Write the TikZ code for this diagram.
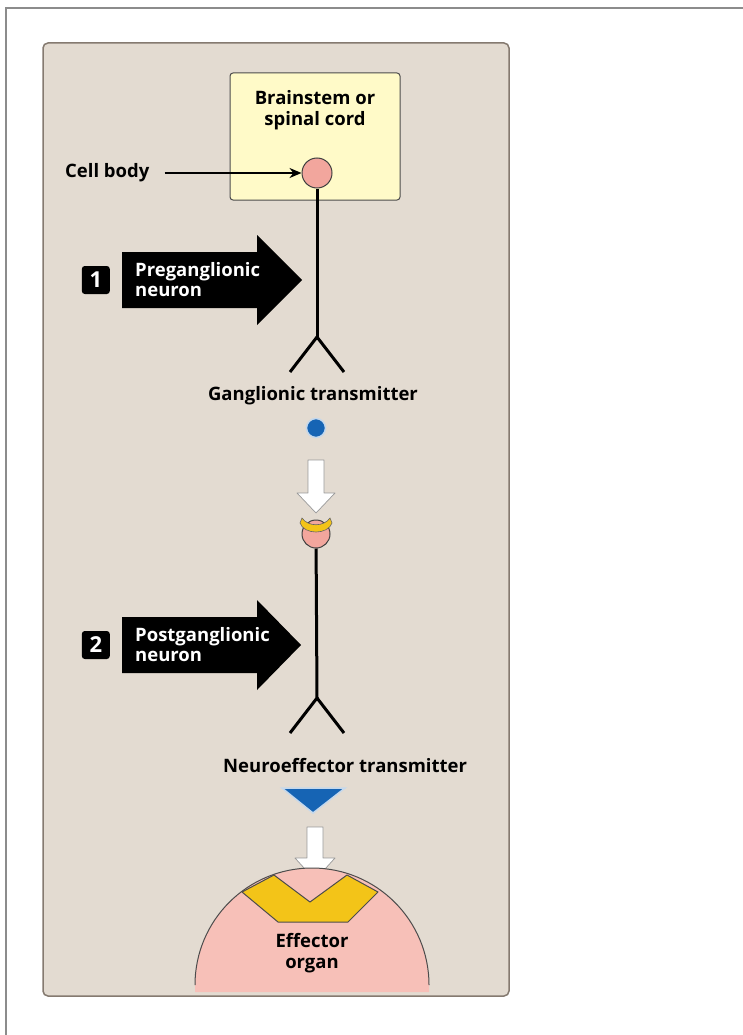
\documentclass[tikz,border=0pt]{standalone}
\usepackage{fontspec}
\setmainfont{Open Sans}
\usetikzlibrary{arrows.meta, positioning}
\definecolor{panelbg}{RGB}{227,219,209}
\definecolor{paneledge}{RGB}{133,122,112}
\definecolor{cordyellow}{RGB}{255,250,200}
\definecolor{somapink}{RGB}{242,166,157}
\definecolor{nblue}{RGB}{22,100,180}
\definecolor{ryellow}{RGB}{243,196,24}
\definecolor{organpink}{RGB}{247,192,184}

\begin{document}
\begin{tikzpicture}[
    x=1pt, y=-1pt,
    lbl/.style={font=\fontsize{18.5}{21}\selectfont\bfseries, align=center, inner sep=0pt},
    cordbox/.style={draw=black!70, fill=cordyellow, line width=1pt, rounded corners=3pt, minimum width=170pt, minimum height=127pt},
    soma/.style={circle, fill=somapink, draw=black!75, line width=1pt, minimum size=30pt, inner sep=0pt},
    bigarrow/.style={fill=black},
    armlabel/.style={font=\fontsize{18.5}{20}\selectfont\bfseries, text=white, align=left, inner sep=0pt, anchor=west},
    badge/.style={fill=black, rounded corners=3pt, minimum size=28pt, inner sep=0pt, text=white, font=\fontsize{22}{22}\selectfont\bfseries},
    hollow/.style={fill=white, draw=black!40, line width=0.7pt, line join=round},
    axon/.style={line width=3pt},
    pointer/.style={-{Stealth[length=12pt, width=10pt]}, line width=2pt}
]

\useasboundingbox (0,0) rectangle (743,1035);
\draw[black!45, line width=2pt] (6,1035) -- (6,8) -- (743,8);
\draw[fill=panelbg, draw=paneledge, line width=1.5pt, rounded corners=5pt] (43,43) rectangle (509,996);

\node[cordbox] (cord) at (315,136.5) {};
\node[lbl, below=18pt of cord.north] (cordtext) {Brainstem or\\spinal cord};
\node[soma] (soma) at (317,173) {};
\node[lbl, anchor=west] (cblabel) at (65,173) {Cell body};
\draw[pointer, shorten <=15pt] (cblabel.east) -- (soma.west);

\coordinate (prefork) at (317,337);
\coordinate (preleft) at (290,372);
\coordinate (preright) at (344,372);
\draw[axon] (soma) -- (prefork);
\draw[axon] (preleft) -- (prefork) -- (preright);

\coordinate (pre) at (122,280);
\fill[bigarrow] (pre) ++(0,-28) -- ++(135,0) -- ++(0,-17) -- ++(45,45) -- ++(-45,45) -- ++(0,-17) -- ++(-135,0) -- cycle;
\node[badge, left=12pt of pre] (badge1) {1};
\node[armlabel, right=13pt of pre] (pretext) {Preganglionic\\neuron};

\node[lbl] (gtlabel) at (313,396) {Ganglionic transmitter};
\node[circle, fill=nblue, draw=nblue!25, line width=1.5pt, minimum size=19pt, inner sep=0pt] (gtdot) at (316,428) {};
\coordinate (arr1) at (316,460);
\filldraw[hollow] (arr1) ++(-8,0) -- ++(16,0) -- ++(0,33) -- ++(11,0) -- ++(-19,20) -- ++(-19,-20) -- ++(11,0) -- cycle;

\node[soma, minimum size=28pt] (postsoma) at (316,534) {};
\filldraw[fill=ryellow, draw=black!60, line width=0.6pt] (302,518) .. controls (308,527) and (324,527) .. (330,518) -- (332,523) .. controls (328,535) and (304,535) .. (300,523) -- cycle;

\coordinate (postfork) at (317,698);
\coordinate (postleft) at (290,733);
\coordinate (postright) at (344,733);
\draw[axon] (postsoma) -- (postfork);
\draw[axon] (postleft) -- (postfork) -- (postright);

\coordinate (post) at (122,645);
\fill[bigarrow] (post) ++(0,-28) -- ++(135,0) -- ++(0,-17) -- ++(44,45) -- ++(-44,45) -- ++(0,-17) -- ++(-135,0) -- cycle;
\node[badge, left=12pt of post] (badge2) {2};
\node[armlabel, right=13pt of post] (posttext) {Postganglionic\\neuron};

\node[lbl, anchor=west] (ntlabel) at (223,766) {Neuroeffector transmitter};
\filldraw[fill=nblue, draw=nblue!25, line width=1.5pt] (282,788) -- (345,788) -- (313,813) -- cycle;
\coordinate (arr2) at (315,827);
\filldraw[hollow] (arr2) ++(-8,0) -- ++(16,0) -- ++(0,31) -- ++(12,0) -- ++(-20,22) -- ++(-20,-22) -- ++(12,0) -- cycle;

\fill[organpink] (195,992) -- (195,985) arc[start angle=180, end angle=360, radius=117] -- (429,992) -- cycle;
\draw[black!70, line width=1pt] (195,985) arc[start angle=180, end angle=360, radius=117];
\filldraw[fill=ryellow, draw=black!70, line width=1pt, line join=round] (242,892) -- (274,875) -- (310,902) -- (347,875) -- (378,892) -- (348,922) -- (278,922) -- cycle;
\node[lbl] (organ) at (312,953) {Effector\\organ};

\end{tikzpicture}
\end{document}
